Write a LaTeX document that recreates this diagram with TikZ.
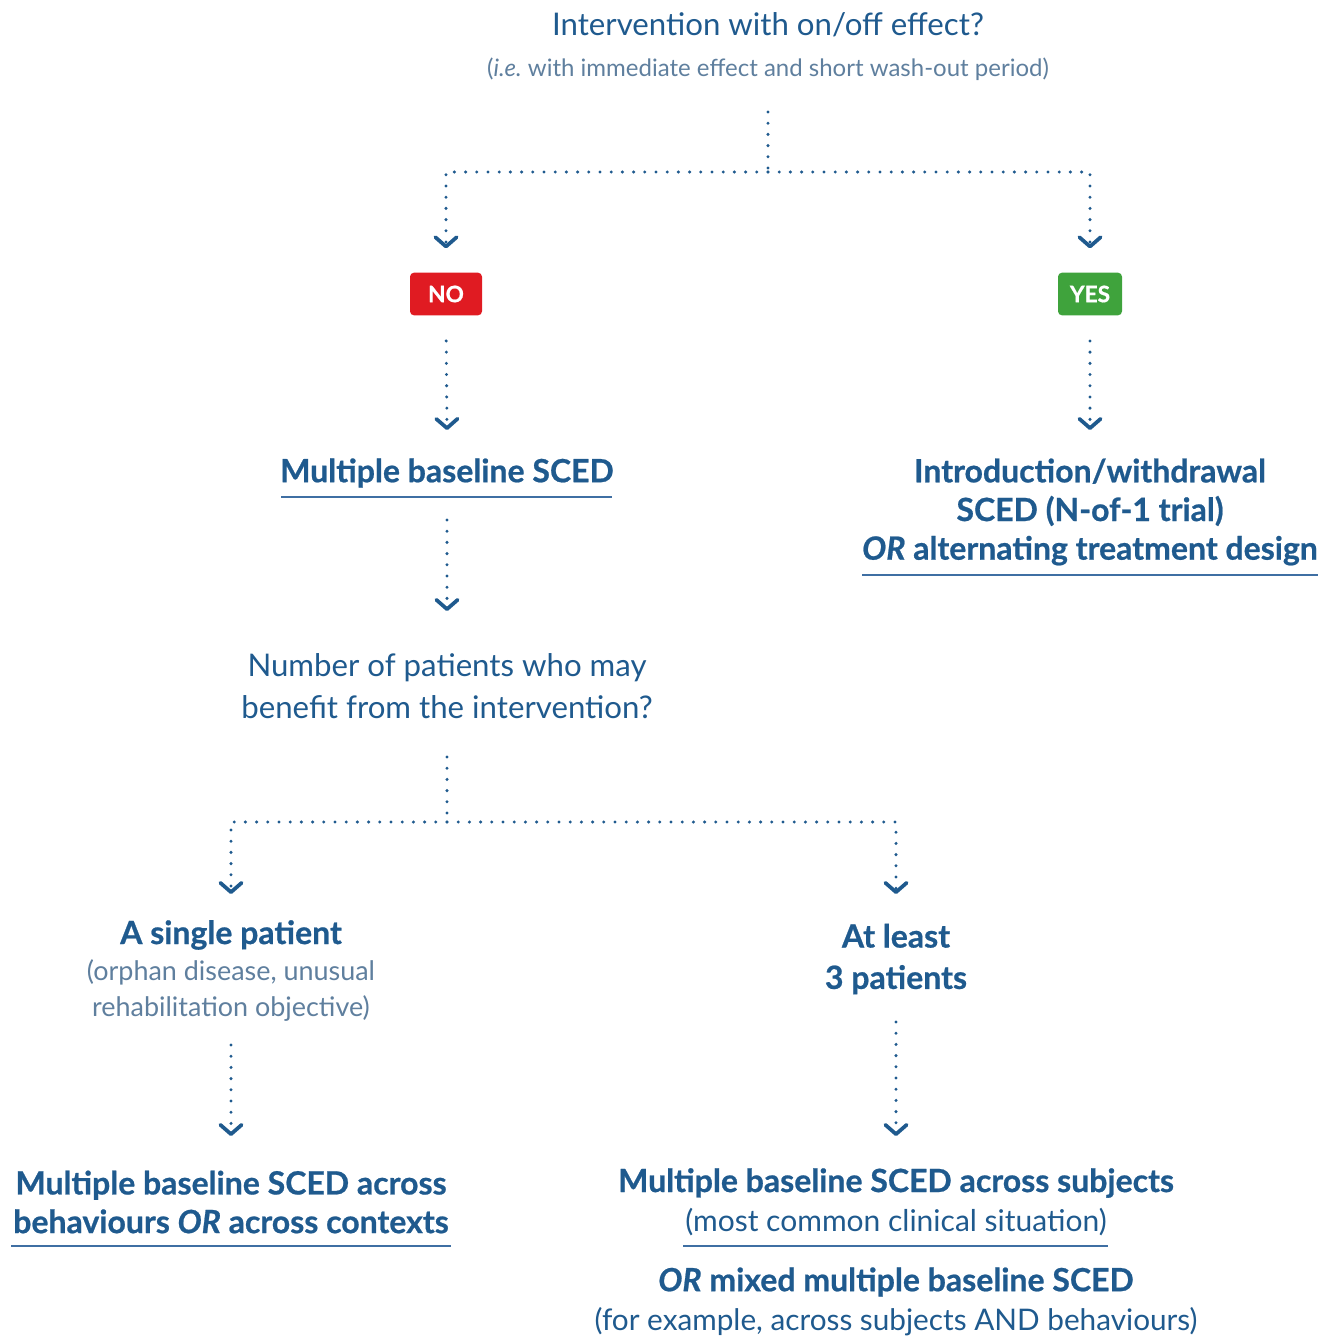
\documentclass[tikz,border=0pt]{standalone}
\usepackage{fontspec}
\setmainfont{Lato}[BoldFeatures={FakeBold=0.7},BoldItalicFeatures={FakeBold=0.7}]
\usetikzlibrary{arrows.meta}
\definecolor{dblue}{HTML}{1F5A8E}
\definecolor{lblue}{HTML}{5F7F9E}
\definecolor{ulblue}{HTML}{3F6FA3}
\definecolor{nored}{HTML}{E01B22}
\definecolor{yesgreen}{HTML}{3FA33C}
\tikzset{
  dotline/.style={draw=dblue, line width=2.5pt, line cap=round, dash pattern=on 0pt off 8.4pt},
  conn/.style={dotline, -{Straight Barb[length=7pt,width=16pt,line width=2.8pt,round]}},
  head/.style={text=dblue, font=\bfseries\fontsize{24}{29}\selectfont, align=center, inner sep=0pt},
  plain/.style={text=dblue, font=\fontsize{23.4}{31}\selectfont, align=center, inner sep=0pt},
  light/.style={text=lblue, font=\fontsize{20.2}{27}\selectfont, align=center, inner sep=0pt},
  tag/.style={text=white, font=\bfseries\fontsize{17}{18}\selectfont, rounded corners=3pt, minimum height=32pt, inner sep=0pt},
  uline/.style={draw=ulblue, line width=1.3pt}
}
\begin{document}
\begin{tikzpicture}[x=0.75pt,y=-0.75pt]
\useasboundingbox (0,0) rectangle (1332,1340);
% top question
\node[text=dblue, font=\fontsize{23.4}{24}\selectfont, inner sep=0pt] (q1) at (768,25) {Intervention with on/off effect?};
\node[text=lblue, font=\fontsize{18}{20}\selectfont, inner sep=0pt] (q1s) at (768,69) {(\textit{i.e.}\ with immediate effect and short wash-out period)};
\coordinate (t1) at (768,112);
\coordinate (j1) at (768,172);
\node[tag, fill=nored, minimum width=54pt] (no) at (446,294) {NO};
\node[tag, fill=yesgreen, minimum width=48pt] (yes) at (1090,294) {YES};
\draw[dotline] (t1) -- (j1);
\draw[conn, shorten >=18pt] (j1) -| (no.north);
\draw[conn, shorten >=18pt] (j1) -| (yes.north);
% level 2
\node[head] (mb) at (447,473) {Multiple baseline SCED};
\draw[uline] (281,497) -- (612,497);
\node[head] (iw) at (1090,512) {Introduction/withdrawal\\SCED (N-of-1 trial)\\\textit{OR} alternating treatment design};
\draw[uline] (862,575) -- (1318,575);
\coordinate (a1) at (447,430);
\coordinate (a2) at (1090,430);
\draw[conn, shorten <=19pt] (no.south) -- (a1);
\draw[conn, shorten <=19pt] (yes.south) -- (a2);
% question 2
\node[plain] (q2) at (447,686) {Number of patients who may\\benefit from the intervention?};
\coordinate (b1) at (447,520);
\coordinate (a3) at (447,611);
\draw[conn] (b1) -- (a3);
\coordinate (t2) at (447,757);
\coordinate (j2) at (447,822);
\coordinate (a4) at (231,894);
\coordinate (a5) at (896,894);
\draw[dotline] (t2) -- (j2);
\draw[conn] (j2) -| (a4);
\draw[conn] (j2) -| (a5);
% level 3
\node[head] (sp) at (231,935) {A single patient};
\node[light] (sps) at (231,990) {(orphan disease, unusual\\rehabilitation objective)};
\node[head, font=\bfseries\fontsize{24}{31}\selectfont] (al) at (896,959) {At least\\3 patients};
\coordinate (b2) at (231,1045);
\coordinate (a6) at (231,1136);
\coordinate (b3) at (896,1022);
\coordinate (a7) at (896,1136);
\draw[conn] (b2) -- (a6);
\draw[conn] (b3) -- (a7);
% bottom
\node[head] (bl) at (231,1202) {Multiple baseline SCED across\\behaviours \textit{OR} across contexts};
\draw[uline] (11,1246) -- (451,1246);
\node[head] (br) at (896,1183) {Multiple baseline SCED across subjects};
\node[plain, font=\fontsize{22.5}{24}\selectfont] (brs) at (896,1222) {(most common clinical situation)};
\draw[uline] (683,1246) -- (1108,1246);
\node[head] (br2) at (896,1282) {\textit{OR} mixed multiple baseline SCED};
\node[plain, font=\fontsize{22.3}{24}\selectfont] (br2s) at (896,1322) {(for example, across subjects AND behaviours)};
\end{tikzpicture}
\end{document}
